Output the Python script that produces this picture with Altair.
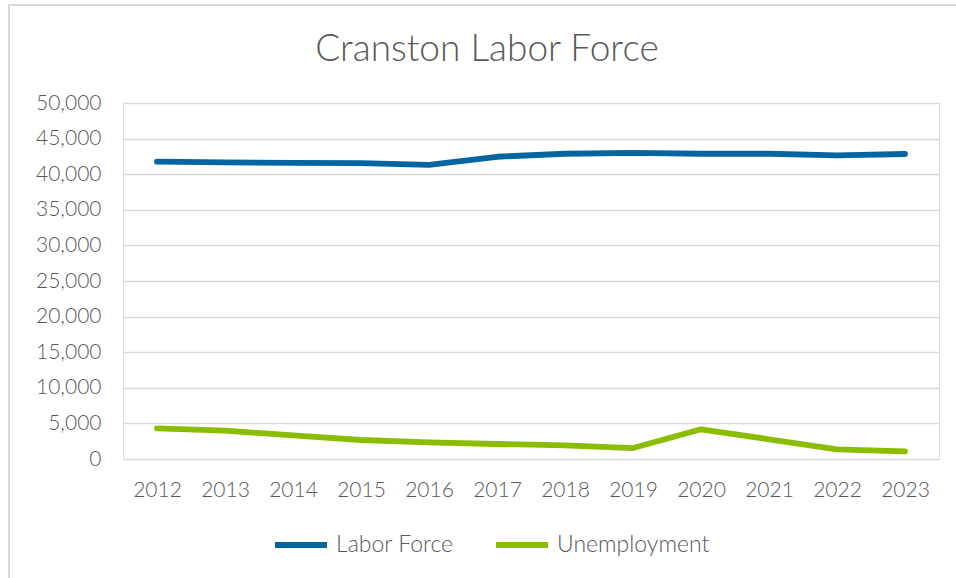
import altair as alt
import pandas as pd

years = ["2012", "2013", "2014", "2015", "2016", "2017", "2018", "2019", "2020", "2021", "2022", "2023"]
labor_force = [41760, 41650, 41600, 41560, 41300, 42450, 42870, 43000, 42870, 42870, 42650, 42840]
unemployment = [4310, 3980, 3320, 2670, 2340, 2110, 1920, 1540, 4170, 2770, 1360, 1080]
series = ["Labor Force", "Unemployment"]
colors = ["#0565a0", "#8abd00"]

rows = []
for y, v in zip(years, labor_force):
    rows.append({"Year": y, "Series": series[0], "Value": v})
for y, v in zip(years, unemployment):
    rows.append({"Year": y, "Series": series[1], "Value": v})
df = pd.DataFrame(rows)

FONT = "Lato"
GRAY = "#595959"

lines = alt.Chart(df).mark_line(strokeWidth=5.8, strokeCap="round", strokeJoin="round").encode(
    x=alt.X("Year:O", sort=years, scale=alt.Scale(type="point", padding=0.5),
            axis=alt.Axis(title=None, labelAngle=0, ticks=False, domain=False, grid=False,
                          labelPadding=20, labelFontSize=21, labelColor=GRAY, labelFont=FONT,
                          labelFontWeight=300)),
    y=alt.Y("Value:Q", scale=alt.Scale(domain=[0, 50000], nice=False),
            axis=alt.Axis(title=None, values=list(range(0, 50001, 5000)), format=",.0f",
                          ticks=False, domain=False, labelPadding=22, labelFontSize=21,
                          labelColor=GRAY, labelFont=FONT, labelFontWeight=300,
                          gridColor="#d9d9d9", gridWidth=1.3)),
    color=alt.Color("Series:N", sort=series, scale=alt.Scale(domain=series, range=colors),
                    legend=alt.Legend(title=None, orient="none", legendX=149, legendY=413,
                                      direction="horizontal", symbolType="stroke",
                                      symbolSize=2704, symbolStrokeWidth=5.8,
                                      labelFontSize=23, labelColor=GRAY, labelFont=FONT,
                                      labelFontWeight=300,
                                      labelOffset=6, columnPadding=30)),
)

border = alt.Chart(pd.DataFrame({"a": [0]})).mark_rect(
    fill=None, stroke="#d9d9d9", strokeWidth=2
).encode(
    x=alt.value(-114), x2=alt.value(1000), y=alt.value(-98), y2=alt.value(600)
)

chart = alt.layer(border, lines).properties(
    width=816,
    height=356,
    padding={"left": 123, "top": 103, "right": 17, "bottom": 119},
    autosize=alt.AutoSizeParams(type="none"),
    title=alt.TitleParams("Cranston Labor Force", fontSize=37, font=FONT, fontWeight=300,
                          color=GRAY, anchor="middle", dx=-44, offset=-65),
).configure_view(stroke=None).configure(background="white")

chart.save("out.html", embed_options={"renderer": "svg", "actions": False})
